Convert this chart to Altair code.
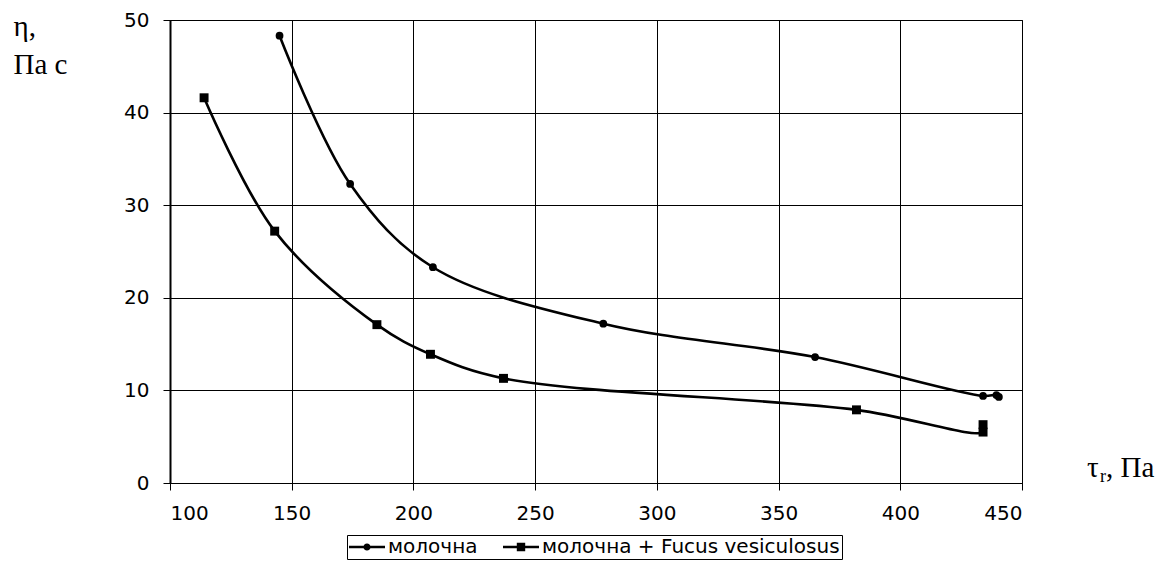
import altair as alt
import pandas as pd

series_names = ["молочна", "молочна + Fucus vesiculosus"]

milk_x = [145, 174, 208, 278, 365, 434, 439.5, 440.5]
milk_y = [48.3, 32.3, 23.3, 17.2, 13.6, 9.4, 9.5, 9.3]

fucus_x = [114, 143, 185, 207, 237, 382, 434, 434]
fucus_y = [41.6, 27.2, 17.1, 13.9, 11.3, 7.9, 5.5, 6.3]

x_ticks = [100, 150, 200, 250, 300, 350, 400, 450]
y_ticks = [0, 10, 20, 30, 40, 50]

y_title = ["η,", "Па с"]
x_title_main = ["τ"]
x_title_sub = ["r"]
x_title_rest = [", Па"]

rows = []
for i, (xv, yv) in enumerate(zip(milk_x, milk_y)):
    rows.append({"series": series_names[0], "x": xv, "y": yv, "order": i})
for i, (xv, yv) in enumerate(zip(fucus_x, fucus_y)):
    rows.append({"series": series_names[1], "x": xv, "y": yv, "order": i})
df = pd.DataFrame(rows)

FONT = "DejaVu Sans"
SERIF = "Liberation Serif"

xenc = alt.X(
    "x:Q",
    scale=alt.Scale(domain=[100, 450], nice=False, zero=False),
    axis=alt.Axis(values=x_ticks, title=None, labelPadding=13, domainWidth=1.2),
)
yenc = alt.Y(
    "y:Q",
    scale=alt.Scale(domain=[0, 50], nice=False),
    axis=alt.Axis(
        values=y_ticks,
        title=y_title,
        titleAngle=0,
        titleX=-157,
        titleY=15,
        titleAlign="left",
        titleBaseline="alphabetic",
        titleFont=SERIF,
        titleFontSize=29,
        titleFontWeight="normal",
        titleLineHeight=38,
        titleColor="black",
        labelPadding=14,
        domainWidth=2,
    ),
)

base = alt.Chart(df)

lines = base.mark_line(
    color="black", strokeWidth=2.6, interpolate="catmull-rom"
).encode(x=xenc, y=yenc, detail="series:N", order="order:Q")

circles = base.transform_filter(
    alt.datum.series == series_names[0]
).mark_point(shape="circle", filled=True, color="black", opacity=1, size=60).encode(
    x=xenc, y=yenc
)

squares = base.transform_filter(
    alt.datum.series == series_names[1]
).mark_point(shape="square", filled=True, color="black", opacity=1, size=80).encode(
    x=xenc, y=yenc
)

# legend symbols: thin filled bars (the line) plus the marker, in units of 10 px
legend_paths = [
    "M-1.8,-0.12H-0.3V0.12H-1.8Z"
    "M0.3,-0.12H1.8V0.12H0.3Z"
    "M-0.36,0A0.36,0.36 0 1,1 0.36,0A0.36,0.36 0 1,1 -0.36,0Z",
    "M-1.8,-0.12H-0.42V0.12H-1.8Z"
    "M0.42,-0.12H1.8V0.12H0.42Z"
    "M-0.42,-0.42H0.42V0.42H-0.42Z",
]

legend_layer = base.mark_point(
    filled=True, color="black", opacity=0
).encode(
    x=xenc,
    y=yenc,
    shape=alt.Shape(
        "series:N",
        scale=alt.Scale(domain=series_names, range=legend_paths),
        legend=alt.Legend(
            title=None,
            orient="none",
            legendX=177,
            legendY=515,
            direction="horizontal",
            symbolSize=400,
            symbolOffset=8,
            symbolStrokeWidth=0,
            symbolOpacity=1,
            symbolFillColor="black",
            labelFont=FONT,
            labelFontSize=20,
            labelColor="black",
            labelOffset=11,
            columnPadding=25,
            strokeColor="black",
            padding=2,
            labelLimit=600,
        ),
    ),
)

tau = alt.Chart(pd.DataFrame({"t": x_title_main})).mark_text(
    font=SERIF, fontSize=29, align="left", baseline="alphabetic", color="black"
).encode(text="t:N", x=alt.value(917), y=alt.value(457))

tau_sub = alt.Chart(pd.DataFrame({"t": x_title_sub})).mark_text(
    font=SERIF, fontSize=18, align="left", baseline="alphabetic", color="black"
).encode(text="t:N", x=alt.value(930), y=alt.value(462))

tau_rest = alt.Chart(pd.DataFrame({"t": x_title_rest})).mark_text(
    font=SERIF, fontSize=29, align="left", baseline="alphabetic", color="black"
).encode(text="t:N", x=alt.value(936), y=alt.value(457))

chart = (
    alt.layer(lines, circles, squares, legend_layer, tau, tau_sub, tau_rest)
    .properties(
        width=852,
        height=463,
        padding={"left": 162, "top": 12, "right": 142, "bottom": 78},
        autosize=alt.AutoSizeParams(type="none"),
        background="white",
    )
    .configure_view(stroke="black", strokeWidth=1)
    .configure_axis(
        labelFont=FONT,
        labelFontSize=20,
        labelColor="black",
        tickColor="black",
        tickSize=7,
        tickWidth=1,
        domainColor="black",
        gridColor="black",
        gridWidth=1,
        gridOpacity=1,
        grid=True,
    )
)

chart.save("out.html", embed_options={"renderer": "svg", "actions": False})
